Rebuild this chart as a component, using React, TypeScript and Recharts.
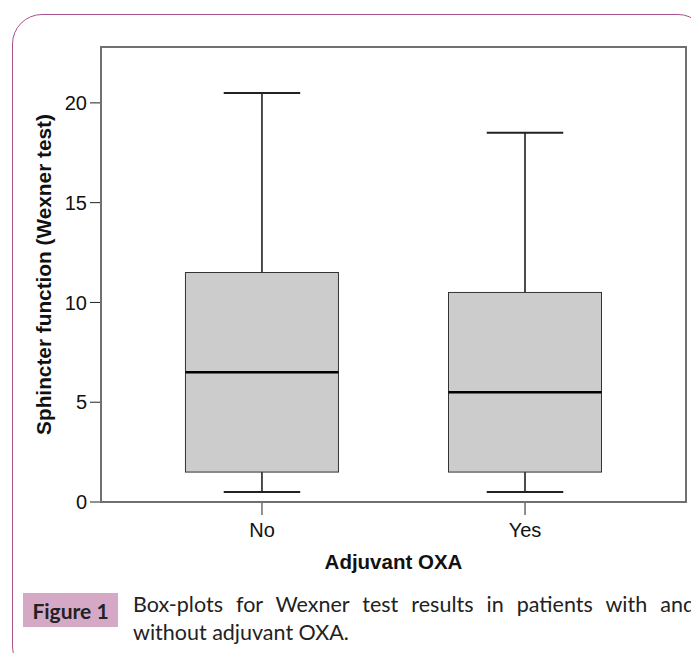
import React from 'react';
import { ComposedChart, Bar, XAxis, YAxis, Label, ReferenceLine } from 'recharts';

const categories = ['No', 'Yes'];
const whiskerLow = [0.5, 0.5];
const q1 = [1.5, 1.5];
const median = [6.5, 5.5];
const q3 = [11.5, 10.5];
const whiskerHigh = [20.5, 18.5];
const yTicks = [0, 5, 10, 15, 20];

const FONT = '"Liberation Sans", Arial, sans-serif';
const CAPTION_FONT = 'Lato, "Open Sans", sans-serif';
const X_DOMAIN = [0.388, 2.612];
const Y_DOMAIN = [0, 22.8];
const FRAME = '#707070';

const chartData = categories.map((name, i) => ({
  pos: i + 1,
  name,
  range: [whiskerLow[i], whiskerHigh[i]],
  q1: q1[i],
  median: median[i],
  q3: q3[i],
}));

// box drawn inside the min..max range bar, positions from the bar's own pixel extent
const BoxShape = (props: any) => {
  const { x, y, width, height, payload } = props;
  const [lo, hi] = payload.range;
  const unit = height / (hi - lo);
  const py = (v: number) => y + (hi - v) * unit;
  const cx = x + width / 2;
  const cap = width * 0.5;
  return (
    <g>
      <line x1={cx} x2={cx} y1={py(hi)} y2={py(payload.q3)} stroke="#111" strokeWidth={1.5} />
      <line x1={cx} x2={cx} y1={py(payload.q1)} y2={py(lo)} stroke="#111" strokeWidth={1.5} />
      <line x1={cx - cap / 2} x2={cx + cap / 2} y1={py(hi)} y2={py(hi)} stroke="#222" strokeWidth={2} />
      <line x1={cx - cap / 2} x2={cx + cap / 2} y1={py(lo)} y2={py(lo)} stroke="#222" strokeWidth={2} />
      <rect x={x} y={py(payload.q3)} width={width} height={py(payload.q1) - py(payload.q3)}
        fill="#cccccc" stroke="#333" strokeWidth={1} />
      <line x1={x} x2={x + width} y1={py(payload.median)} y2={py(payload.median)} stroke="#000" strokeWidth={2.5} />
    </g>
  );
};

const YLabel = (props: any) => {
  const vb = props.viewBox;
  const cx = vb.x + 2;
  const cy = vb.y + vb.height / 2;
  return (
    <text x={cx} y={cy} transform={`rotate(-90 ${cx} ${cy})`} textAnchor="middle"
      dominantBaseline="central" fontFamily={FONT} fontWeight="bold" fontSize={20.8} fill="#111">
      Sphincter function (Wexner test)
    </text>
  );
};

const XLabel = (props: any) => {
  const vb = props.viewBox;
  return (
    <text x={vb.x + vb.width / 2} y={569} textAnchor="middle"
      fontFamily={FONT} fontWeight="bold" fontSize={20.5} fill="#111">
      Adjuvant OXA
    </text>
  );
};

export default function App() {
  return (
    <div style={{ position: 'relative', margin: -8, width: 699, height: 661, background: '#fff', overflow: 'hidden', fontFamily: FONT }}>
      <div style={{
        position: 'absolute', left: 12, top: 14, width: 696, height: 662,
        border: '1.5px solid #a8528c', borderRadius: 30, boxSizing: 'border-box',
      }} />
      <div style={{ position: 'absolute', left: 0, top: 0 }}>
        <ComposedChart width={699} height={661} data={chartData}
          margin={{ top: 47, right: 13, left: 41, bottom: 99 }}>
          <XAxis dataKey="pos" type="number" domain={X_DOMAIN} ticks={[1, 2]} allowDataOverflow
            tickFormatter={(v: number) => categories[v - 1]} height={60}
            axisLine={{ stroke: FRAME, strokeWidth: 1.5 }}
            tickLine={{ stroke: '#222' }} tickSize={13} tickMargin={8}
            tick={{ fill: '#111', fontSize: 20, fontFamily: FONT }}>
            <Label content={<XLabel />} />
          </XAxis>
          <YAxis width={60} domain={Y_DOMAIN} ticks={yTicks} allowDataOverflow
            axisLine={{ stroke: FRAME, strokeWidth: 1.5 }}
            tickLine={{ stroke: '#222' }} tickSize={11} tickMargin={3}
            tick={{ fill: '#111', fontSize: 20, fontFamily: FONT }}>
            <Label content={<YLabel />} />
          </YAxis>
          <ReferenceLine y={Y_DOMAIN[1]} stroke={FRAME} strokeWidth={2} ifOverflow="extendDomain" />
          <ReferenceLine x={X_DOMAIN[1]} stroke={FRAME} strokeWidth={2} ifOverflow="extendDomain" />
          <Bar dataKey="range" barSize={153} shape={<BoxShape />} isAnimationActive={false} />
        </ComposedChart>
      </div>
      {/* plot frame around the plotting area */}
      <div style={{
        position: 'absolute', left: 100, top: 46, width: 587, height: 457, boxSizing: 'border-box',
        border: `2px solid ${FRAME}`, zIndex: 10, pointerEvents: 'none',
      }} />
      <div style={{
        position: 'absolute', left: 23, top: 593, width: 95, height: 34, background: '#d5a9c6',
        display: 'flex', alignItems: 'center', justifyContent: 'center',
        fontFamily: CAPTION_FONT, fontWeight: 'bold', fontSize: 21, color: '#222',
      }}>
        Figure 1
      </div>
      <div style={{
        position: 'absolute', left: 133, top: 590, width: 562,
        fontFamily: CAPTION_FONT, fontSize: 21.5, lineHeight: '28px', color: '#222',
      }}>
        <div style={{ textAlign: 'justify', textAlignLast: 'justify' }}>
          Box-plots for Wexner test results in patients with and
        </div>
        <div>without adjuvant OXA.</div>
      </div>
    </div>
  );
}
